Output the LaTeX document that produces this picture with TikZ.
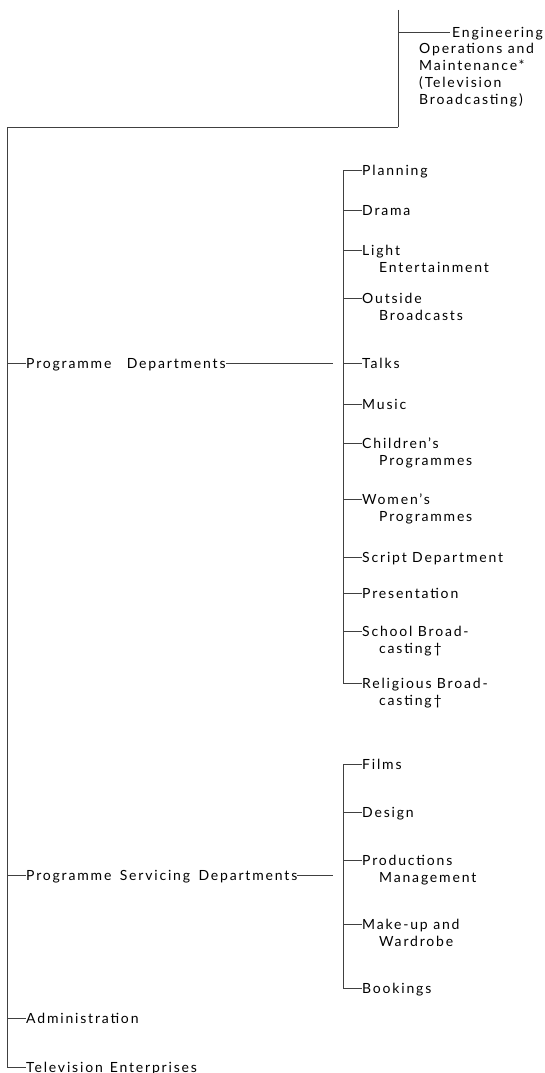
\documentclass[tikz,border=0pt]{standalone}
\usepackage{fontspec}
\setmainfont[LetterSpace=13]{Lato}
\newcommand{\subindent}{\hspace*{17pt}}
\begin{document}
\begin{tikzpicture}[x=1pt, y=-1pt,
	unit/.style={anchor=base west, inner sep=0pt, align=left, font=\fontsize{14}{16.7}\selectfont},
	link/.style={line width=0.6pt, black!75}]

	\useasboundingbox (0,0) rectangle (545,1073);

	% top: engineering (base = last line)
	\coordinate (engtop) at (398,10);
	\coordinate (engcorner) at (398,127);
	\coordinate (engjoin) at (398,32);
	\coordinate (engend) at (450,32);
	\node[unit] (eng) at (419,104) {\hspace*{33pt}Engineering\\Operations and\\Maintenance*\\(Television\\Broadcasting)};

	\draw[link] (engtop) -- (engcorner);
	\draw[link] (engjoin) -- (engend);

	% main spine
	\coordinate (maintop) at (7,127);
	\coordinate (mainbot) at (7,1067);
	\coordinate (m1) at (7,363);
	\coordinate (m2) at (7,875);
	\coordinate (m3) at (7,1018);

	\node[unit] (progdep) at (26,368) {Programme\hspace{1.1em}Departments};
	\node[unit] (servdep) at (26,880) {Programme\hspace{0.6em}Servicing\hspace{0.6em}Departments};
	\node[unit] (admin) at (26,1023) {Administration};
	\node[unit] (enterp) at (26,1072) {Television\hspace{0.5em}Enterprises};

	\draw[link] (engcorner) -- (maintop) -- (mainbot) -- (enterp.west |- mainbot);
	\draw[link] (m1) -- (m1 -| progdep.west);
	\draw[link] (m2) -- (m2 -| servdep.west);
	\draw[link] (m3) -- (m3 -| admin.west);

	% programme departments
	\coordinate (pend) at (333,363);
	\coordinate (a1) at (343,170);
	\coordinate (a2) at (343,210);
	\coordinate (a3) at (343,250);
	\coordinate (a4) at (343,298);
	\coordinate (a5) at (343,363);
	\coordinate (a6) at (343,404);
	\coordinate (a7) at (343,443);
	\coordinate (a8) at (343,499);
	\coordinate (a9) at (343,557);
	\coordinate (a10) at (343,593);
	\coordinate (a11) at (343,631);
	\coordinate (a12) at (343,683);

	\node[unit] (planning) at (362,175) {Planning};
	\node[unit] (drama) at (362,215) {Drama};
	\node[unit] (light) at (362,272) {Light\\\subindent Entertainment};
	\node[unit] (outside) at (362,320) {Outside\\\subindent Broadcasts};
	\node[unit] (talks) at (362,368) {Talks};
	\node[unit] (music) at (362,409) {Music};
	\node[unit] (children) at (362,465) {Children's\\\subindent Programmes};
	\node[unit] (women) at (362,521) {Women's\\\subindent Programmes};
	\node[unit] (script) at (362,562) {Script Department};
	\node[unit] (present) at (362,598) {Presentation};
	\node[unit] (school) at (362,653) {School Broad-\\\subindent casting\textdagger};
	\node[unit] (relig) at (362,705) {Religious Broad-\\\subindent casting\textdagger};

	\draw[link] (progdep.east |- pend) -- (pend);
	\draw[link] (a1 -| planning.west) -- (a1) -- (a12) -- (a12 -| relig.west);
	\draw[link] (a2) -- (a2 -| drama.west);
	\draw[link] (a3) -- (a3 -| light.west);
	\draw[link] (a4) -- (a4 -| outside.west);
	\draw[link] (a5) -- (a5 -| talks.west);
	\draw[link] (a6) -- (a6 -| music.west);
	\draw[link] (a7) -- (a7 -| children.west);
	\draw[link] (a8) -- (a8 -| women.west);
	\draw[link] (a9) -- (a9 -| script.west);
	\draw[link] (a10) -- (a10 -| present.west);
	\draw[link] (a11) -- (a11 -| school.west);

	% programme servicing departments
	\coordinate (send) at (333,875);
	\coordinate (b1) at (343,764);
	\coordinate (b2) at (343,812);
	\coordinate (b3) at (343,860);
	\coordinate (b4) at (343,924);
	\coordinate (b5) at (343,988);

	\node[unit] (films) at (362,769) {Films};
	\node[unit] (design) at (362,817) {Design};
	\node[unit] (prodman) at (362,882) {Productions\\\subindent Management};
	\node[unit] (makeup) at (362,946) {Make-up and\\\subindent Wardrobe};
	\node[unit] (bookings) at (362,993) {Bookings};

	\draw[link] (servdep.east |- send) -- (send);
	\draw[link] (b1 -| films.west) -- (b1) -- (b5) -- (b5 -| bookings.west);
	\draw[link] (b2) -- (b2 -| design.west);
	\draw[link] (b3) -- (b3 -| prodman.west);
	\draw[link] (b4) -- (b4 -| makeup.west);

\end{tikzpicture}
\end{document}
